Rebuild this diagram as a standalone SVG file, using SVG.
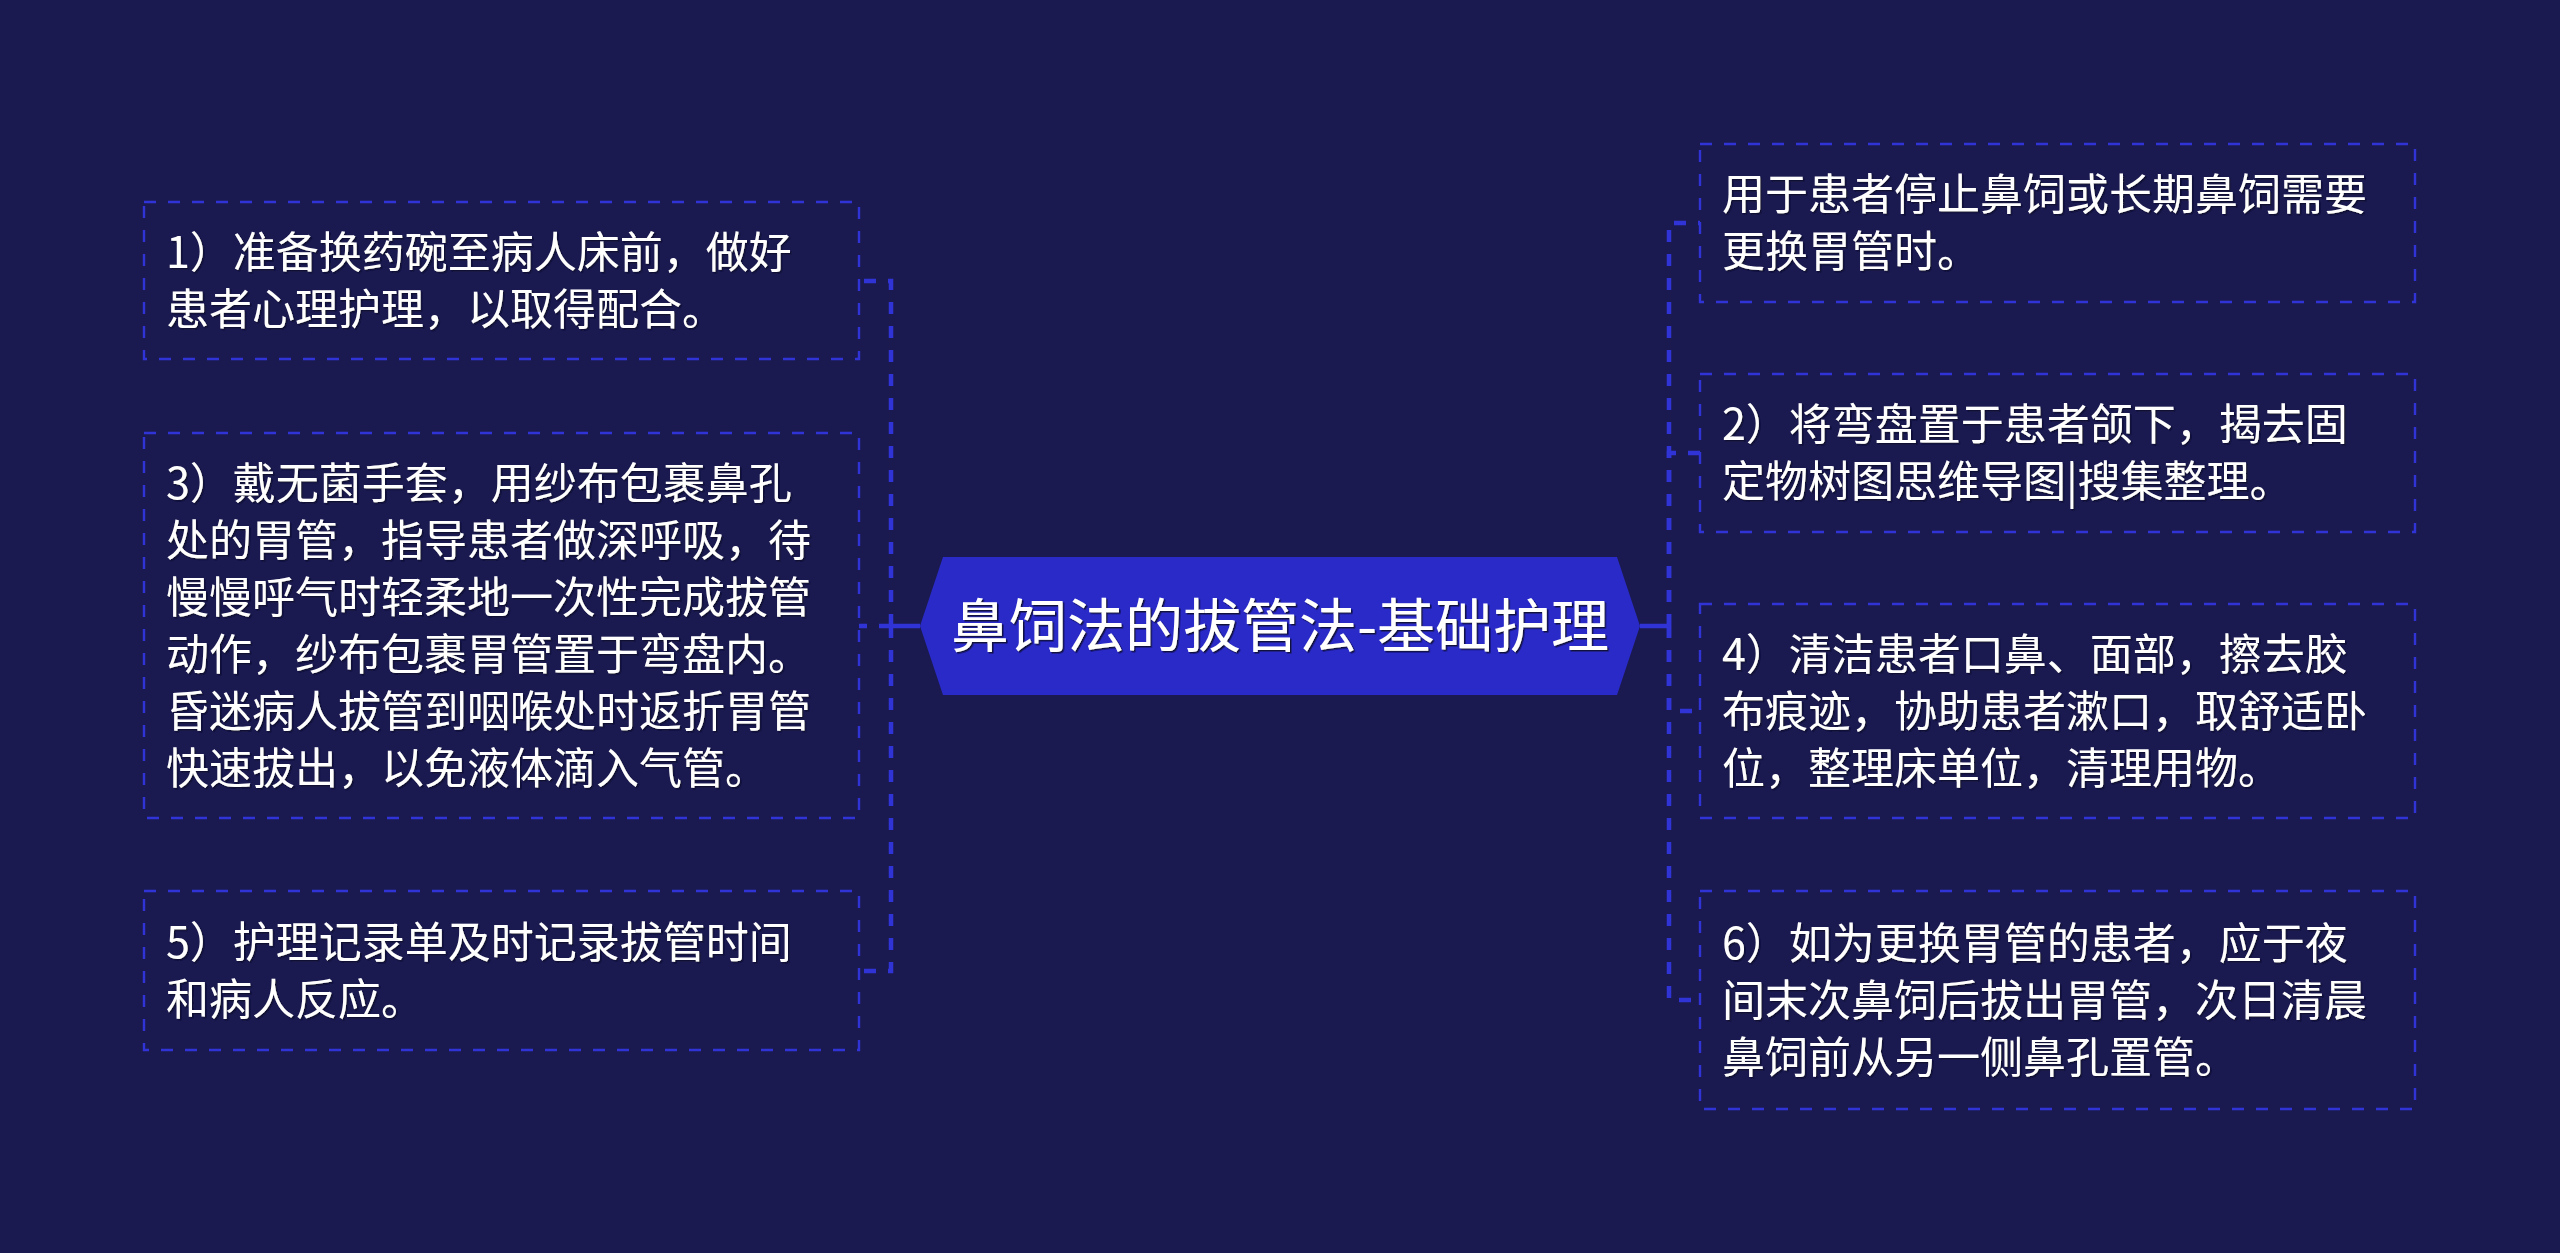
<svg xmlns="http://www.w3.org/2000/svg" width="2560" height="1253" viewBox="0 0 2560 1253">
<defs>
<style>
.bg{fill:#1b1a50}
.box{fill:none;stroke:#3034d6;stroke-width:2.4;stroke-dasharray:12 12}
.lnk{fill:none;stroke:#3034d6;stroke-width:4.5;stroke-dasharray:12 12}
.stem{fill:none;stroke:#3034d6;stroke-width:4.5}
.t{font-family:"Noto Sans CJK SC","Noto Sans",sans-serif;font-size:43px;fill:#ffffff}
.ct{font-family:"Noto Sans CJK SC","Noto Sans",sans-serif;font-size:58px;fill:#ffffff;text-anchor:middle}
</style>
<filter id="sh" x="-5%" y="-20%" width="110%" height="140%">
<feDropShadow dx="1.5" dy="1.5" stdDeviation="0.6" flood-color="#0a0a30" flood-opacity="0.9"/>
</filter>
</defs>
<rect class="bg" x="0" y="0" width="2560" height="1253"/>
<g id="connectors">
<path class="stem" d="M891 626 H920"/>
<path class="lnk" d="M891 626 V281 H859"/>
<path class="lnk" d="M891 626 H859"/>
<path class="lnk" d="M891 626 V971 H859"/>
<path class="stem" d="M1640 626 H1671"/>
<path class="lnk" d="M1669 626 V223 H1700"/>
<path class="lnk" d="M1669 626 V453 H1700"/>
<path class="lnk" d="M1669 626 V711 H1700"/>
<path class="lnk" d="M1669 626 V1000 H1700"/>
</g>
<g id="center">
<polygon points="920,626 943,557 1617,557 1640,626 1617,695 943,695" fill="#2a2ac9"/>
<text class="ct" x="1280" y="647" filter="url(#sh)">鼻饲法的拔管法-基础护理</text>
</g>
<g id="node1">
<rect class="box" x="144" y="202" width="715" height="157"/>
<text class="t" filter="url(#sh)"><tspan x="166" y="268">1）准备换药碗至病人床前，做好</tspan><tspan x="166" y="325">患者心理护理，以取得配合。</tspan></text>
</g>
<g id="node3">
<rect class="box" x="144" y="433" width="715" height="385"/>
<text class="t" filter="url(#sh)"><tspan x="166" y="499">3）戴无菌手套，用纱布包裹鼻孔</tspan><tspan x="166" y="556">处的胃管，指导患者做深呼吸，待</tspan><tspan x="166" y="613">慢慢呼气时轻柔地一次性完成拔管</tspan><tspan x="166" y="670">动作，纱布包裹胃管置于弯盘内。</tspan><tspan x="166" y="727">昏迷病人拔管到咽喉处时返折胃管</tspan><tspan x="166" y="784">快速拔出，以免液体滴入气管。</tspan></text>
</g>
<g id="node5">
<rect class="box" x="144" y="891" width="715" height="159"/>
<text class="t" filter="url(#sh)"><tspan x="166" y="958">5）护理记录单及时记录拔管时间</tspan><tspan x="166" y="1015">和病人反应。</tspan></text>
</g>
<g id="nodeA">
<rect class="box" x="1700" y="144" width="715" height="158"/>
<text class="t" filter="url(#sh)"><tspan x="1722" y="210">用于患者停止鼻饲或长期鼻饲需要</tspan><tspan x="1722" y="267">更换胃管时。</tspan></text>
</g>
<g id="node2">
<rect class="box" x="1700" y="374" width="715" height="158"/>
<text class="t" filter="url(#sh)"><tspan x="1722" y="440">2）将弯盘置于患者颌下，揭去固</tspan><tspan x="1722" y="497">定物树图思维导图|搜集整理。</tspan></text>
</g>
<g id="node4">
<rect class="box" x="1700" y="604" width="715" height="214"/>
<text class="t" filter="url(#sh)"><tspan x="1722" y="670">4）清洁患者口鼻、面部，擦去胶</tspan><tspan x="1722" y="727">布痕迹，协助患者漱口，取舒适卧</tspan><tspan x="1722" y="784">位，整理床单位，清理用物。</tspan></text>
</g>
<g id="node6">
<rect class="box" x="1700" y="891" width="715" height="218"/>
<text class="t" filter="url(#sh)"><tspan x="1722" y="959">6）如为更换胃管的患者，应于夜</tspan><tspan x="1722" y="1016">间末次鼻饲后拔出胃管，次日清晨</tspan><tspan x="1722" y="1073">鼻饲前从另一侧鼻孔置管。</tspan></text>
</g>
</svg>
